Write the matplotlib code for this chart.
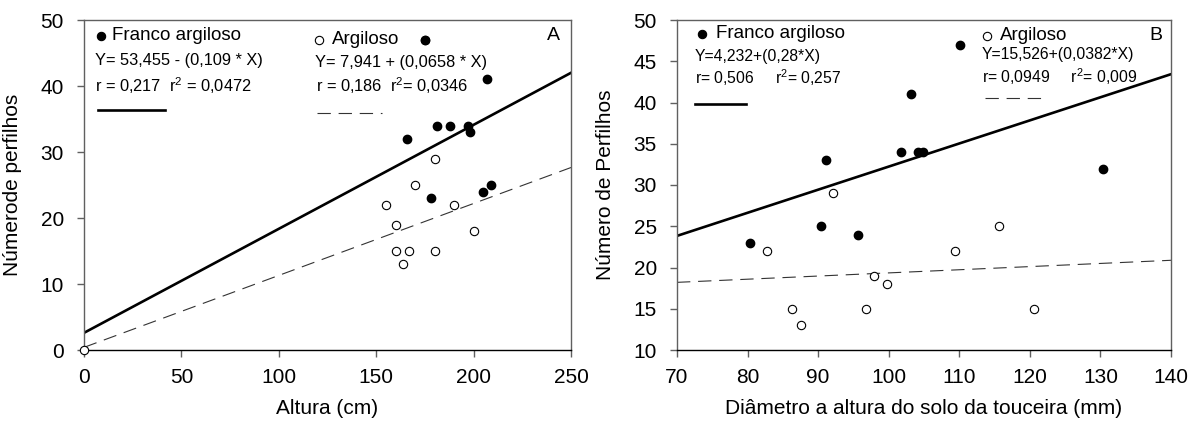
import matplotlib
matplotlib.use("Agg")
import matplotlib.pyplot as plt
from matplotlib.lines import Line2D
import numpy as np

plt.rcParams['font.family'] = ['Liberation Sans', 'DejaVu Sans']
plt.rcParams['mathtext.default'] = 'regular'

W, H = 1192, 421

# Painel A - altura (cm) x número de perfilhos
a_franco_x = [175, 207, 166, 181, 188, 197, 198, 178, 205, 209]
a_franco_y = [47, 41, 32, 34, 34, 34, 33, 23, 24, 25]
a_argil_x = [0, 180, 170, 155, 190, 160, 200, 160, 167, 180, 164]
a_argil_y = [0, 29, 25, 22, 22, 19, 18, 15, 15, 15, 13]
a_franco_line = [2.6, 0.1576]   # intercepto, inclinação (como desenhado)
a_argil_line = [0.4, 0.109]

# Painel B - diâmetro (mm) x número de perfilhos
b_franco_x = [80.4, 91.1, 90.4, 95.6, 101.8, 104.1, 104.9, 103.2, 110.1, 130.4]
b_franco_y = [23, 33, 25, 24, 34, 34, 34, 41, 47, 32]
b_argil_x = [82.7, 92.1, 86.3, 87.5, 96.8, 97.9, 99.8, 109.4, 115.6, 120.6]
b_argil_y = [22, 29, 15, 13, 15, 19, 18, 22, 25, 15]
b_franco_line = [4.232, 0.28]
b_argil_line = [15.526, 0.0382]


def fx(x):
    return x / W


def fy(y):
    return 1 - y / H


fig = plt.figure(figsize=(W / 100, H / 100), dpi=100)
axA = fig.add_axes([fx(84), fy(350), (571 - 84) / W, 330 / H])
axB = fig.add_axes([fx(677), fy(350), (1171 - 677) / W, 330 / H])


def draw_panel(ax, fx_, fy_, ax_, ay_, line_f, line_a, xlim, ylim):
    xs = np.array(xlim, dtype=float)
    ax.plot(xs, line_f[0] + line_f[1] * xs, color='black', lw=1.9, zorder=2)
    ax.plot(xs, line_a[0] + line_a[1] * xs, color='#333333', lw=0.8,
            dashes=(12, 7), zorder=2)
    ax.plot(fx_, fy_, 'o', color='black', ms=6, zorder=3, clip_on=False)
    ax.plot(ax_, ay_, 'o', mfc='white', mec='black', mew=0.8, ms=6,
            zorder=3, clip_on=False)
    ax.set_xlim(xlim)
    ax.set_ylim(ylim)
    for s in ax.spines.values():
        s.set_color('#606060')
        s.set_linewidth(1.0)
    ax.spines['bottom'].set_color('black')
    ax.tick_params(direction='out', length=5, width=1, color='#606060',
                   labelsize=15, pad=8)
    ax.tick_params(axis='y', pad=9.5)


draw_panel(axA, a_franco_x, a_franco_y, a_argil_x, a_argil_y,
           a_franco_line, a_argil_line, (0, 250), (0, 50))
axA.set_xticks([0, 50, 100, 150, 200, 250])
axA.set_yticks([0, 10, 20, 30, 40, 50])
axA.set_xlabel('Altura (cm)', fontsize=15)
axA.set_ylabel('Númerode perfilhos', fontsize=15)
axA.xaxis.set_label_coords(0.5, -0.15)
axA.yaxis.set_label_coords(-0.127, 0.5)

draw_panel(axB, b_franco_x, b_franco_y, b_argil_x, b_argil_y,
           b_franco_line, b_argil_line, (70, 140), (10, 50))
axB.set_xticks(range(70, 141, 10))
axB.set_yticks(range(10, 51, 5))
axB.set_xlabel('Diâmetro a altura do solo da touceira (mm)', fontsize=15)
axB.set_ylabel('Número de Perfilhos', fontsize=15)
axB.xaxis.set_label_coords(0.5, -0.15)
axB.yaxis.set_label_coords(-0.1255, 0.5)


# legendas e equações (posições em pixels da figura)
def key(xm, ym, filled):
    fig.add_artist(Line2D([fx(xm)], [fy(ym)], marker='o', ms=6,
                          mfc='black' if filled else 'white', mec='black',
                          mew=0.8, transform=fig.transFigure))


def seg(x0, x1, y, dashed):
    kw = dict(color='#333333', lw=0.8, dashes=(12, 7)) if dashed else \
        dict(color='black', lw=1.9)
    fig.add_artist(Line2D([fx(x0), fx(x1)], [fy(y), fy(y)],
                          transform=fig.transFigure, **kw))


def txt(x, y, s, size, ha='left'):
    fig.text(fx(x), fy(y), s, fontsize=size, ha=ha, va='center')


# Painel A
key(101, 36, True)
txt(112, 35, 'Franco argiloso', 13.5)
txt(95, 60, 'Y= 53,455 - (0,109 * X)', 11.8)
txt(95, 86, 'r = 0,217  r$^{2}$ = 0,0472', 11.8)
seg(98, 165, 110, False)
key(319, 40, False)
txt(332, 39, 'Argiloso', 13.5)
key(425, 40, True)
txt(315, 62, 'Y= 7,941 + (0,0658 * X)', 11.8)
txt(316, 86, 'r = 0,186  r$^{2}$= 0,0346', 11.8)
seg(317, 382, 113, True)
txt(560, 35, 'A', 14, ha='right')

# Painel B
key(702, 34, True)
txt(716, 33, 'Franco argiloso', 13.5)
txt(695, 56, 'Y=4,232+(0,28*X)', 11.3)
txt(695, 78, 'r= 0,506     r$^{2}$= 0,257', 11.3)
seg(695, 746, 103.5, False)
key(987, 36, False)
txt(1000, 35, 'Argiloso', 13.5)
txt(982, 54, 'Y=15,526+(0,0382*X)', 11.3)
txt(982, 77, 'r= 0,0949     r$^{2}$= 0,009', 11.3)
seg(985, 1046, 98, True)
txt(1162, 35, 'B', 14, ha='right')

fig.savefig('out.png', dpi=100)
